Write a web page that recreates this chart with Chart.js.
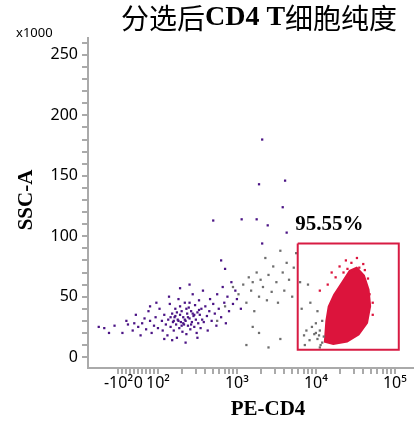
<!DOCTYPE html>
<html>
<head>
<meta charset="utf-8">
<script src="https://cdn.jsdelivr.net/npm/chart.js@4/dist/chart.umd.min.js"></script>
<style>
  body { margin: 0; background: #fff; }
  #wrap { width: 420px; height: 426px; }
</style>
</head>
<body>
<div id="wrap"><canvas id="canvas"></canvas></div>
<script>
// x values are display units of the biexponential axis: 2 = 10^2, 3 = 10^3 ... 1.75 = 0, 1.5 = -10^2
var xTickValues = [1.5, 1.75, 2, 3, 4, 5];
var xTickLabels = ['-10²', '0', '10²', '10³', '10⁴', '10⁵'];
var purplePoints = [
  [1.25,25],[1.32,24],[1.38,20],[1.45,26],[1.55,20],[1.60,30],[1.62,27],[1.68,22],[1.72,35],[1.75,25],
  [1.78,18],[1.80,28],[1.83,32],[1.85,23],[1.88,38],[1.90,30],[1.92,20],[1.95,26],[1.97,33],[2.00,24],
  [2.02,40],[2.05,30],[2.06,22],[2.08,35],[2.10,27],[2.12,18],[2.13,31],[2.15,44],[2.16,25],[2.18,36],
  [2.19,29],[2.20,22],[2.21,33],[2.22,40],[2.23,27],[2.24,16],[2.25,31],[2.26,48],[2.27,24],[2.28,35],
  [2.29,29],[2.30,38],[2.31,21],[2.32,33],[2.33,27],[2.34,45],[2.35,30],[2.36,19],[2.37,36],[2.38,26],
  [2.39,41],[2.40,32],[2.41,23],[2.42,38],[2.43,29],[2.44,52],[2.45,34],[2.46,25],[2.47,43],[2.48,31],
  [2.49,20],[2.50,37],[2.51,28],[2.52,47],[2.53,35],[2.54,24],[2.55,40],[2.56,31],[2.57,55],[2.58,29],
  [2.60,42],[2.62,34],[2.63,22],[2.65,38],[2.66,48],[2.68,30],[2.70,44],[2.72,36],[2.74,26],[2.75,52],
  [2.77,40],[2.80,33],[2.82,58],[2.84,45],[2.86,28],[2.88,50],[2.90,38],[2.93,62],[2.95,44],[2.98,55],
  [3.00,48],[3.05,40],[1.98,45],[2.14,50],[2.28,57],[2.40,60],[2.08,15],[2.35,12],[2.18,14],[2.50,16],
  [1.70,28],[1.90,42],[2.22,34],[2.32,28],[2.44,36],[2.26,30],[2.38,33],[2.30,26],
  [2.20,30],[2.24,37],[2.34,31],[2.36,40],[2.42,27],[2.46,35],[2.28,42],[2.16,33],[2.52,39],[2.40,45],
  [3.58,124],[2.70,113],[3.06,114],[3.25,114],[3.39,109],[3.32,94],[3.63,103],[2.80,80],[2.85,73],
  [3.32,180],[3.28,143],[3.61,146]
];
var grayPoints = [
  [2.75,30],[2.85,42],[2.95,58],[3.02,52],[3.08,60],[3.12,45],[3.15,66],[3.18,55],[3.20,62],[3.22,38],
  [3.25,70],[3.28,50],[3.30,64],[3.33,58],[3.36,82],[3.38,47],[3.40,68],[3.44,54],[3.46,75],[3.50,62],
  [3.52,45],[3.55,88],[3.58,70],[3.60,55],[3.63,78],[3.66,64],[3.70,50],[3.72,74],[3.75,86],[3.20,25],
  [3.28,20],[3.55,15],[3.12,10],[3.40,8],[3.80,62],[3.82,40],
  [3.85,18],[3.88,22],[3.92,14],[3.95,25],[3.98,19],[4.00,28],[4.02,15],[4.05,22],[4.06,10],[4.08,30],
  [4.10,17],[3.90,60],[3.93,45],[4.02,38],[4.05,8],[3.86,10],[4.04,18],[4.08,12],[4.00,20]
];
var redBlob = [
  [4.10,12],[4.12,30],[4.15,42],[4.22,52],[4.32,62],[4.42,72],[4.52,75],[4.62,68],[4.68,56],[4.70,42],
  [4.66,28],[4.55,18],[4.40,12],[4.22,10]
];
var redPoints = [
  [4.30,75],[4.38,80],[4.45,78],[4.52,82],[4.60,77],[4.20,70],[4.66,65],[4.68,52],[4.72,45],[4.62,72],
  [4.05,55],[4.15,60],[4.72,35],[4.55,74],[4.40,73],[4.25,66],[4.48,72],[4.35,70]
];
var gate = [[3.77,94],[5.05,94],[5.05,6],[3.77,6],[3.77,94]];
var gateLabel = '95.55%';

function toXY(list) {
  return list.map(function(p) { return { x: p[0], y: p[1] }; });
}

// minor ticks of the biexponential axis
function buildXTicks() {
  var ticks = [];
  [-100, -80, -60, -40, -20, 0, 20, 40, 60, 80].forEach(function(v) {
    ticks.push({ value: 1.75 + v / 400 });
  });
  for (var d = 2; d <= 5; d++) {
    for (var k = 1; k <= 9; k++) {
      if (d === 5 && k > 1) break;
      ticks.push({ value: d + Math.log10(k) });
    }
  }
  return ticks;
}

// the dense population is drawn as a filled shape from redBlob
var blobPlugin = {
  id: 'blob',
  beforeDatasetsDraw: function(chart) {
    var ctx = chart.ctx;
    var xs = chart.scales.x, ys = chart.scales.y;
    ctx.save();
    ctx.fillStyle = '#dc143c';
    ctx.beginPath();
    redBlob.forEach(function(p, i) {
      var px = xs.getPixelForValue(p[0]), py = ys.getPixelForValue(p[1]);
      if (i === 0) ctx.moveTo(px, py); else ctx.lineTo(px, py);
    });
    ctx.closePath();
    ctx.fill();
    ctx.restore();
  }
};

var textPlugin = {
  id: 'texts',
  afterDraw: function(chart) {
    var ctx = chart.ctx;
    var xs = chart.scales.x, ys = chart.scales.y;
    ctx.save();
    ctx.fillStyle = '#000';
    ctx.textBaseline = 'middle';
    // title, mixed fonts
    var parts = [
      ['分选后', '28px "Noto Sans CJK SC"'],
      ['CD4 T', 'bold 28px "Liberation Serif"'],
      ['细胞纯度', '28px "Noto Sans CJK SC"']
    ];
    var total = 0;
    parts.forEach(function(p) { ctx.font = p[1]; total += ctx.measureText(p[0]).width; });
    var x = 259 - total / 2;
    ctx.textAlign = 'left';
    parts.forEach(function(p) { ctx.font = p[1]; ctx.fillText(p[0], x, 18); x += ctx.measureText(p[0]).width; });
    ctx.font = '13px "Noto Sans"';
    ctx.fillText('x1000', 16, 33);
    ctx.font = 'bold 21px "Liberation Serif"';
    ctx.textAlign = 'center';
    ctx.fillText('PE-CD4', 268, 410);
    ctx.fillText(gateLabel, xs.getPixelForValue(4.17), ys.getPixelForValue(110));
    ctx.translate(27, 200);
    ctx.rotate(-Math.PI / 2);
    ctx.fillText('SSC-A', 0, 0);
    ctx.restore();
  }
};

var ctx = document.getElementById('canvas').getContext('2d');
var chart = new Chart(ctx, {
  type: 'scatter',
  data: {
    datasets: [
      {
        label: 'gate', data: toXY(gate), showLine: true, borderColor: '#d81b43',
        borderWidth: 2, pointRadius: 0, fill: false
      },
      { label: 'red', data: toXY(redPoints), backgroundColor: '#dc143c', borderWidth: 0, pointStyle: 'rect', pointRadius: 1.6 },
      { label: 'gray', data: toXY(grayPoints), backgroundColor: '#6e6e6e', borderWidth: 0, pointStyle: 'rect', pointRadius: 1.6 },
      { label: 'purple', data: toXY(purplePoints), backgroundColor: '#4b1485', borderWidth: 0, pointStyle: 'rect', pointRadius: 1.6 }
    ]
  },
  options: {
    responsive: true,
    maintainAspectRatio: false,
    animation: false,
    layout: { padding: { top: 38, right: 7, left: 0, bottom: 0 } },
    plugins: { legend: { display: false }, tooltip: { enabled: false } },
    scales: {
      x: {
        type: 'linear', min: 1.114, max: 5.23,
        afterBuildTicks: function(axis) { axis.ticks = buildXTicks(); },
        afterFit: function(axis) { axis.height = 58; },
        border: { color: '#aaa', width: 2 },
        grid: { drawOnChartArea: false, tickLength: 6, color: '#aaa', lineWidth: 2 },
        ticks: {
          autoSkip: false, maxRotation: 0, padding: 0, color: '#000',
          font: { family: 'Noto Sans', size: 16 },
          callback: function(v) {
            for (var i = 0; i < xTickValues.length; i++) {
              if (Math.abs(xTickValues[i] - v) < 1e-6) return xTickLabels[i];
            }
            return '';
          }
        }
      },
      y: {
        type: 'linear', min: -9, max: 264,
        afterBuildTicks: function(axis) {
          var t = [];
          for (var v = 0; v <= 260; v += 10) t.push({ value: v });
          axis.ticks = t;
        },
        afterFit: function(axis) { axis.width = 88; },
        border: { color: '#aaa', width: 2 },
        grid: { drawOnChartArea: false, tickLength: 6, color: '#aaa', lineWidth: 2 },
        ticks: {
          autoSkip: false, padding: 4, color: '#000',
          font: { family: 'Noto Sans', size: 16 },
          callback: function(v) { return v % 50 === 0 ? String(v) : ''; }
        }
      }
    }
  },
  plugins: [blobPlugin, textPlugin]
});
</script>
</body>
</html>
